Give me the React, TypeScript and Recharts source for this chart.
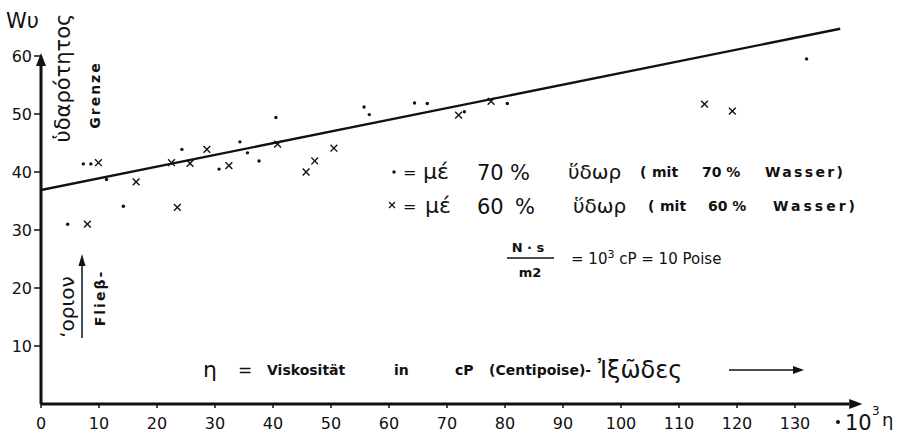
import React from "react";
import { ScatterChart, Scatter, XAxis, YAxis, ReferenceLine } from "recharts";

// viscosity (·10^3 cP) vs. flow limit Wu
const xTicks = [0, 10, 20, 30, 40, 50, 60, 70, 80, 90, 100, 110, 120, 130];
const yTicks = [10, 20, 30, 40, 50, 60];

// "·" = 70 % water
const water70X = [4.6, 7.3, 8.6, 11.3, 14.2, 24.3, 30.7, 34.3, 35.6, 37.6, 40.5, 55.7, 56.6, 64.4, 66.6, 73.0, 80.4, 132.0];
const water70Y = [31.0, 41.4, 41.4, 38.7, 34.1, 43.9, 40.5, 45.2, 43.3, 41.9, 49.4, 51.2, 49.9, 51.9, 51.8, 50.4, 51.8, 59.5];

// "×" = 60 % water
const water60X = [8.0, 9.9, 16.4, 22.5, 23.5, 25.7, 28.6, 32.4, 40.8, 45.7, 47.2, 50.5, 72.0, 77.6, 114.4, 119.2];
const water60Y = [31.0, 41.6, 38.3, 41.6, 33.9, 41.5, 43.9, 41.1, 44.8, 40.0, 41.9, 44.1, 49.8, 52.2, 51.7, 50.5];

// fitted line
const fitX = [0, 137.8];
const fitY = [36.9, 64.7];

const toPoints = (xs: number[], ys: number[]) => xs.map((x, i) => ({ x, y: ys[i] }));

const INK = "#111";
const FONT = "'DejaVu Sans', sans-serif";

const Dot = (props: any) => <circle cx={props.cx} cy={props.cy} r={1.7} fill={INK} />;

const Cross = (props: any) => {
  const { cx, cy } = props;
  const s = 3.4;
  return (
    <g stroke={INK} strokeWidth={1.4}>
      <line x1={cx - s} y1={cy - s} x2={cx + s} y2={cy + s} />
      <line x1={cx - s} y1={cy + s} x2={cx + s} y2={cy - s} />
    </g>
  );
};

// thick axis line with filled arrow head at its end
const AxisArrow = (props: any) => {
  const { x1, y1, x2, y2 } = props;
  const dx = x2 - x1;
  const dy = y2 - y1;
  const len = Math.sqrt(dx * dx + dy * dy) || 1;
  const ux = dx / len;
  const uy = dy / len;
  const hl = 13;
  const hw = 5;
  const bx = x2 - ux * hl;
  const by = y2 - uy * hl;
  return (
    <g>
      <line x1={x1} y1={y1} x2={bx} y2={by} stroke={INK} strokeWidth={3} />
      <path
        d={`M${x2},${y2} L${bx - uy * hw},${by + ux * hw} L${bx + uy * hw},${by - ux * hw} Z`}
        fill={INK}
      />
    </g>
  );
};

const Annotations = () => (
  <svg
    width={904}
    height={436}
    style={{ position: "absolute", left: 0, top: 0, pointerEvents: "none" }}
    fontFamily={FONT}
    fill={INK}
  >
    <text x={6} y={28} fontSize={21}>Wυ</text>

    {/* vertical axis caption */}
    <text transform="translate(70,78) rotate(-90)" textAnchor="middle" fontSize={21}>
      ὑδαρότητος
    </text>
    <text
      transform="translate(100,95) rotate(-90)"
      textAnchor="middle"
      fontSize={14}
      fontWeight="bold"
      letterSpacing={2}
    >
      Grenze
    </text>
    <text transform="translate(74,307) rotate(-90)" textAnchor="middle" fontSize={20}>
      ‘οριον
    </text>
    <line x1={82} y1={338} x2={82} y2={264} stroke={INK} strokeWidth={1.5} />
    <path d="M82,254 L78.5,266 L85.5,266 Z" fill={INK} />
    <text
      transform="translate(105,298) rotate(-90)"
      textAnchor="middle"
      fontSize={14}
      fontWeight="bold"
      letterSpacing={2}
    >
      Flieβ-
    </text>

    {/* legend row 1 */}
    <circle cx={394} cy={172} r={1.7} fill={INK} />
    <text x={403} y={178} fontSize={16}>=</text>
    <text x={423} y={179} fontSize={22}>μέ</text>
    <text x={477} y={180} fontSize={21}>70</text>
    <text x={510} y={180} fontSize={21}>%</text>
    <text x={568} y={179} fontSize={20}>ὕδωρ</text>
    <text x={640} y={177} fontSize={14} fontWeight="bold">(</text>
    <text x={652} y={177} fontSize={14} fontWeight="bold">mit</text>
    <text x={702} y={177} fontSize={14} fontWeight="bold">70 %</text>
    <text x={765} y={177} fontSize={14} fontWeight="bold" textLength={78}>Wasser)</text>

    {/* legend row 2 */}
    <g stroke={INK} strokeWidth={1.3}>
      <line x1={389} y1={202} x2={395} y2={208} />
      <line x1={389} y1={208} x2={395} y2={202} />
    </g>
    <text x={403} y={212} fontSize={16}>=</text>
    <text x={425} y={213} fontSize={22}>μέ</text>
    <text x={477} y={214} fontSize={21}>60</text>
    <text x={515} y={214} fontSize={21}>%</text>
    <text x={573} y={213} fontSize={20}>ὕδωρ</text>
    <text x={648} y={211} fontSize={14} fontWeight="bold">(</text>
    <text x={660} y={211} fontSize={14} fontWeight="bold">mit</text>
    <text x={708} y={211} fontSize={14} fontWeight="bold">60 %</text>
    <text x={773} y={211} fontSize={14} fontWeight="bold" textLength={82}>Wasser)</text>

    {/* unit note */}
    <text x={528} y={252} fontSize={13} fontWeight="bold" textAnchor="middle">N · s</text>
    <line x1={507} y1={258} x2={554} y2={258} stroke={INK} strokeWidth={1.3} />
    <text x={530} y={277} fontSize={13} fontWeight="bold" textAnchor="middle">m2</text>
    <text x={571} y={264} fontSize={15}>
      = 10<tspan dy={-6} fontSize={11}>3</tspan>
      <tspan dy={6}> cP = 10 Poise</tspan>
    </text>

    {/* x axis caption */}
    <text x={203} y={377} fontSize={22}>η</text>
    <text x={238} y={376} fontSize={17}>=</text>
    <text x={267} y={375} fontSize={14} fontWeight="bold">Viskosität</text>
    <text x={394} y={375} fontSize={14} fontWeight="bold">in</text>
    <text x={455} y={375} fontSize={14} fontWeight="bold">cP</text>
    <text x={489} y={375} fontSize={14} fontWeight="bold">(Centipoise)-</text>
    <text x={598} y={378} fontSize={24}>Ἰξῶδες</text>
    <line x1={729} y1={370} x2={796} y2={370} stroke={INK} strokeWidth={1.5} />
    <path d="M804,370 L793,366 L793,374 Z" fill={INK} />

    {/* x axis unit */}
    <circle cx={838} cy={422} r={2} fill={INK} />
    <text x={845} y={430} fontSize={21}>10</text>
    <text x={872} y={415} fontSize={12}>3</text>
    <text x={882} y={426} fontSize={18}>η</text>
  </svg>
);

export default function App() {
  return (
    <div style={{ position: "absolute", left: 0, top: 0, width: 904, height: 436, background: "#fff" }}>
      <ScatterChart
        width={904}
        height={436}
        margin={{ top: 9.6, right: 4.6, bottom: 0, left: 0 }}
      >
        <XAxis
          type="number"
          dataKey="x"
          domain={[0, 148]}
          ticks={xTicks}
          axisLine={false}
          tickLine={{ stroke: INK, strokeWidth: 1.5 }}
          tickSize={4}
          tickMargin={10}
          height={32}
          tick={{ fill: INK, fontSize: 16, fontFamily: FONT }}
          allowDataOverflow
        />
        <YAxis
          type="number"
          dataKey="y"
          domain={[0, 68]}
          ticks={yTicks}
          axisLine={false}
          tickLine={{ stroke: INK, strokeWidth: 1.5 }}
          tickSize={7}
          tickMargin={2}
          width={41}
          tick={{ fill: INK, fontSize: 16, fontFamily: FONT }}
          allowDataOverflow
        />
        <ReferenceLine
          segment={[{ x: 0, y: 0 }, { x: 141.6, y: 0 }]}
          shape={AxisArrow}
          ifOverflow="visible"
        />
        <ReferenceLine
          segment={[{ x: 0, y: 0 }, { x: 0, y: 60.5 }]}
          shape={AxisArrow}
          ifOverflow="visible"
        />
        <Scatter
          data={toPoints(fitX, fitY)}
          line={{ stroke: INK, strokeWidth: 2.4 }}
          shape={() => <g />}
          isAnimationActive={false}
        />
        <Scatter data={toPoints(water70X, water70Y)} shape={Dot} isAnimationActive={false} />
        <Scatter data={toPoints(water60X, water60Y)} shape={Cross} isAnimationActive={false} />
      </ScatterChart>
      <Annotations />
    </div>
  );
}
